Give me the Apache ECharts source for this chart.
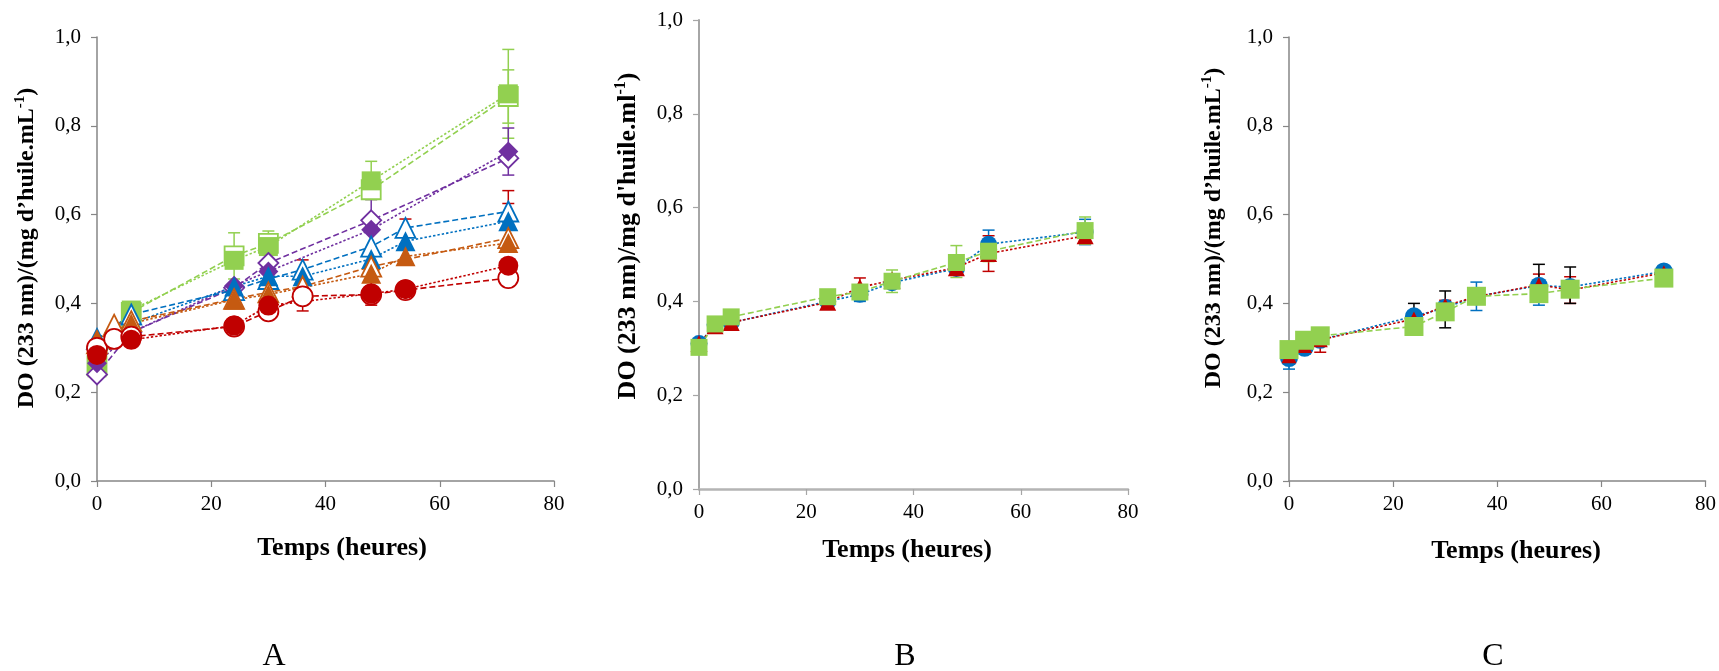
<!DOCTYPE html>
<html><head><meta charset="utf-8">
<script src="https://cdn.jsdelivr.net/npm/echarts@6/dist/echarts.min.js"></script>
<style>html,body{margin:0;padding:0;background:#fff}#c{width:1719px;height:671px}</style>
</head><body><div id="c"></div>
<script>
// ---------- ticks / labels ----------
const X_MIN = 0, X_MAX = 80, X_STEP = 20;
const Y_TICKS = [0, 0.2, 0.4, 0.6, 0.8, 1.0];
const Y_TICK_LABELS = ['0,0', '0,2', '0,4', '0,6', '0,8', '1,0'];
const PANEL_LABELS = ['A', 'B', 'C'];
const X_TITLE = 'Temps (heures)';
const Y_TITLES = ['DO (233 nm)/(mg d’huile.mL', 'DO (233 nm)/mg d\'huile.ml', 'DO (233 nm)/(mg d’huile.mL'];

// ---------- Panel A ----------
const A_gO_t = [0, 6, 24, 30, 48, 72];
const A_gO_y = [0.26, 0.38, 0.507, 0.535, 0.656, 0.866];
const A_gO_up = [0, 0, 0.052, 0, 0, 0.06];
const A_gO_dn = [0, 0, 0.052, 0, 0, 0.06];
const A_gF_t = [0, 6, 24, 30, 48, 72];
const A_gF_y = [0.255, 0.385, 0.497, 0.528, 0.676, 0.872];
const A_gF_up = [0, 0, 0, 0.035, 0.044, 0.10];
const A_gF_dn = [0, 0, 0, 0.035, 0.042, 0.10];

const A_pO_t = [0, 6, 24, 30, 48, 72];
const A_pO_y = [0.24, 0.335, 0.435, 0.491, 0.587, 0.727];
const A_pO_up = [0, 0, 0, 0, 0.047, 0];
const A_pO_dn = [0, 0, 0, 0, 0, 0];
const A_pF_t = [0, 6, 24, 30, 48, 72];
const A_pF_y = [0.265, 0.335, 0.44, 0.472, 0.566, 0.742];
const A_pF_up = [0, 0, 0, 0, 0, 0.053];
const A_pF_dn = [0, 0, 0, 0, 0, 0.053];

const A_bO_t = [0, 6, 24, 30, 36, 48, 54, 72];
const A_bO_y = [0.32, 0.375, 0.43, 0.455, 0.476, 0.528, 0.570, 0.607];
const A_bF_t = [0, 6, 24, 30, 36, 48, 54, 72];
const A_bF_y = [0.31, 0.355, 0.438, 0.461, 0.461, 0.50, 0.54, 0.585];

const A_oO_t = [0, 3, 6, 24, 30, 36, 48, 72];
const A_oO_y = [0.31, 0.352, 0.36, 0.41, 0.425, 0.438, 0.483, 0.547];
const A_oO_up = [0, 0, 0, 0, 0, 0.06, 0, 0.078];
const A_oO_dn = [0, 0, 0, 0, 0, 0, 0, 0];
const A_oF_t = [0, 6, 24, 30, 48, 54, 72];
const A_oF_y = [0.32, 0.355, 0.408, 0.42, 0.467, 0.506, 0.536];
const A_oF_up = [0, 0, 0, 0, 0, 0.084, 0.118];
const A_oF_dn = [0, 0, 0, 0, 0, 0, 0];

const A_rO_t = [0, 3, 6, 24, 30, 36, 48, 54, 72];
const A_rO_y = [0.30, 0.32, 0.325, 0.348, 0.382, 0.416, 0.42, 0.43, 0.457];
const A_rO_up = [0, 0, 0, 0, 0, 0.033, 0, 0, 0];
const A_rO_dn = [0, 0, 0, 0, 0, 0.033, 0, 0, 0];
const A_rF_t = [0, 6, 24, 30, 48, 54, 72];
const A_rF_y = [0.284, 0.318, 0.35, 0.395, 0.422, 0.432, 0.485];
const A_rF_up = [0, 0, 0, 0, 0.026, 0, 0];
const A_rF_dn = [0, 0, 0, 0, 0.026, 0, 0];

// ---------- Panel B ----------
const B_t = [0, 3, 6, 24, 30, 36, 48, 54, 72];
const B_blue_y = [0.31, 0.35, 0.355, 0.40, 0.415, 0.44, 0.47, 0.522, 0.548];
const B_blue_up = [0, 0, 0, 0, 0.015, 0, 0, 0.03, 0.027];
const B_blue_dn = [0, 0, 0, 0, 0.015, 0, 0, 0.03, 0.027];
const B_red_y = [0.31, 0.348, 0.355, 0.398, 0.43, 0.445, 0.472, 0.502, 0.54];
const B_red_up = [0, 0, 0, 0, 0.02, 0, 0, 0.038, 0];
const B_red_dn = [0, 0, 0, 0, 0, 0, 0, 0.038, 0];
const B_green_y = [0.302, 0.352, 0.367, 0.41, 0.42, 0.443, 0.483, 0.507, 0.551];
const B_green_up = [0, 0, 0, 0, 0, 0.024, 0.036, 0, 0.029];
const B_green_dn = [0, 0, 0, 0, 0, 0.024, 0.032, 0.022, 0.029];

// ---------- Panel C ----------
const C_t = [0, 3, 6, 24, 30, 36, 48, 54, 72];
const C_blue_y = [0.277, 0.30, 0.318, 0.371, 0.39, 0.416, 0.44, 0.437, 0.472];
const C_blue_up = [0.025, 0, 0, 0, 0, 0.032, 0, 0, 0];
const C_blue_dn = [0.025, 0, 0, 0, 0, 0.032, 0.044, 0, 0];
const C_red_y = [0.282, 0.305, 0.318, 0.365, 0.395, 0.415, 0.442, 0.43, 0.469];
const C_red_up = [0, 0, 0, 0, 0.012, 0, 0.024, 0.03, 0];
const C_red_dn = [0, 0, 0.028, 0, 0, 0, 0, 0.03, 0];
const C_green_y = [0.296, 0.317, 0.327, 0.348, 0.381, 0.416, 0.422, 0.432, 0.457];
const C_green_up = [0, 0, 0, 0.052, 0.047, 0, 0.066, 0.05, 0];
const C_green_dn = [0, 0, 0, 0, 0.036, 0, 0, 0.032, 0];

// ---------- styles ----------
const GREEN = '#92D050', PURPLE = '#7030A0', BLUE = '#0070C0', ORANGE = '#C55A11', RED = '#C00000', BLACK = '#000000';
const FONT = 'Liberation Serif';
const DASH = [6, 3], DOT = [2.4, 2];

function lineS(g, t, y, color, symbol, size, open, dash) {
  return {
    type: 'line', xAxisIndex: g, yAxisIndex: g, z: 3, silent: true, animation: false,
    data: t.map((x, i) => [x, y[i]]),
    symbol: symbol, symbolSize: size, showAllSymbol: true,
    lineStyle: { color: color, width: 1.6, type: dash },
    itemStyle: { color: open ? '#ffffff' : color, borderColor: color, borderWidth: open ? 1.8 : 0, opacity: 1 }
  };
}
function errS(g, t, y, up, dn, color) {
  const data = [];
  t.forEach((x, i) => { if (up[i] > 0 || dn[i] > 0) data.push([x, y[i] - dn[i], y[i] + up[i], y[i]]); });
  return {
    type: 'custom', xAxisIndex: g, yAxisIndex: g, z: 2, silent: true, animation: false,
    encode: { x: 0, y: [1, 2] }, data: data,
    renderItem: function (p, api) {
      const x = api.value(0), lo = api.value(1), hi = api.value(2), mid = api.value(3);
      const pl = api.coord([x, lo]), ph = api.coord([x, hi]);
      const st = { stroke: color, lineWidth: 1.5 };
      const ch = [{ type: 'line', shape: { x1: pl[0], y1: pl[1], x2: ph[0], y2: ph[1] }, style: st }];
      const hw = 6;
      if (lo < mid) ch.push({ type: 'line', shape: { x1: pl[0] - hw, y1: pl[1], x2: pl[0] + hw, y2: pl[1] }, style: st });
      if (hi > mid) ch.push({ type: 'line', shape: { x1: ph[0] - hw, y1: ph[1], x2: ph[0] + hw, y2: ph[1] }, style: st });
      return { type: 'group', children: ch };
    }
  };
}

const grids = [
  { left: 97, top: 37, width: 457, height: 444 },
  { left: 699, top: 20, width: 429, height: 469 },
  { left: 1289, top: 37, width: 417, height: 444 }
];
const axisCol = ['#868686', '#A6A6A6', '#868686'];
const xAxes = grids.map((g, i) => ({
  type: 'value', gridIndex: i, min: X_MIN, max: X_MAX, interval: X_STEP,
  splitLine: { show: false },
  axisLine: { show: true, lineStyle: { color: i === 1 ? '#B4B4B4' : axisCol[i], width: i === 1 ? 2.5 : 1.5 } },
  axisTick: { show: true, length: 6, lineStyle: { color: axisCol[i], width: 1.2 } },
  axisLabel: { margin: 13, color: '#000', fontFamily: FONT, fontSize: 21 }
}));
const yAxes = grids.map((g, i) => ({
  type: 'value', gridIndex: i, min: 0, max: 1, interval: 0.2,
  splitLine: { show: false },
  axisLine: { show: true, lineStyle: { color: axisCol[i], width: i === 1 ? 2 : 1.5 } },
  axisTick: { show: true, length: 6, lineStyle: { color: axisCol[i], width: 1.2 } },
  axisLabel: {
    margin: 16, color: '#000', fontFamily: FONT, fontSize: 21,
    formatter: v => { const k = Y_TICKS.findIndex(t => Math.abs(t - v) < 1e-6); return k >= 0 ? Y_TICK_LABELS[k] : ''; }
  }
}));

const series = [
  // Panel A errors
  errS(0, A_gO_t, A_gO_y, A_gO_up, A_gO_dn, GREEN),
  errS(0, A_gF_t, A_gF_y, A_gF_up, A_gF_dn, GREEN),
  errS(0, A_pO_t, A_pO_y, A_pO_up, A_pO_dn, PURPLE),
  errS(0, A_pF_t, A_pF_y, A_pF_up, A_pF_dn, PURPLE),
  errS(0, A_oO_t, A_oO_y, A_oO_up, A_oO_dn, RED),
  errS(0, A_oF_t, A_oF_y, A_oF_up, A_oF_dn, RED),
  errS(0, A_rO_t, A_rO_y, A_rO_up, A_rO_dn, RED),
  errS(0, A_rF_t, A_rF_y, A_rF_up, A_rF_dn, RED),
  // Panel A lines
  lineS(0, A_gO_t, A_gO_y, GREEN, 'rect', 19, true, DASH),
  lineS(0, A_gF_t, A_gF_y, GREEN, 'rect', 19, false, DOT),
  lineS(0, A_pO_t, A_pO_y, PURPLE, 'diamond', 20, true, DASH),
  lineS(0, A_pF_t, A_pF_y, PURPLE, 'diamond', 20, false, DOT),
  lineS(0, A_bO_t, A_bO_y, BLUE, 'triangle', 20, true, DASH),
  lineS(0, A_bF_t, A_bF_y, BLUE, 'triangle', 20, false, DOT),
  lineS(0, A_oO_t, A_oO_y, ORANGE, 'triangle', 20, true, DASH),
  lineS(0, A_oF_t, A_oF_y, ORANGE, 'triangle', 20, false, DOT),
  lineS(0, A_rO_t, A_rO_y, RED, 'circle', 20, true, DASH),
  lineS(0, A_rF_t, A_rF_y, RED, 'circle', 20, false, DOT),
  // Panel B
  errS(1, B_t, B_blue_y, B_blue_up, B_blue_dn, BLUE),
  errS(1, B_t, B_red_y, B_red_up, B_red_dn, RED),
  errS(1, B_t, B_green_y, B_green_up, B_green_dn, GREEN),
  lineS(1, B_t, B_blue_y, BLUE, 'circle', 17, false, DOT),
  lineS(1, B_t, B_red_y, RED, 'triangle', 17, false, DOT),
  lineS(1, B_t, B_green_y, GREEN, 'rect', 17, false, DASH),
  // Panel C
  errS(2, C_t, C_blue_y, C_blue_up, C_blue_dn, BLUE),
  errS(2, C_t, C_red_y, C_red_up, C_red_dn, RED),
  errS(2, C_t, C_green_y, C_green_up, C_green_dn, BLACK),
  lineS(2, C_t, C_blue_y, BLUE, 'circle', 18, false, DOT),
  lineS(2, C_t, C_red_y, RED, 'triangle', 15, false, DOT),
  lineS(2, C_t, C_green_y, GREEN, 'rect', 19, false, DASH)
];

function yTitle(x, y, txt, fs) {
  return {
    type: 'text', x: x, y: y, rotation: Math.PI / 2, silent: true,
    style: {
      text: '{t|' + txt + '}{s|-1}{t|)}', align: 'center', verticalAlign: 'middle',
      rich: {
        t: { fontFamily: FONT, fontWeight: 'bold', fontSize: fs, lineHeight: fs + 4, fill: '#000' },
        s: { fontFamily: FONT, fontWeight: 'bold', fontSize: Math.round(fs * 0.62), lineHeight: fs - 2, verticalAlign: 'top', fill: '#000' }
      }
    }
  };
}
function plainText(x, y, txt, fs, bold) {
  return {
    type: 'text', x: x, y: y, silent: true,
    style: { text: txt, fontFamily: FONT, fontWeight: bold ? 'bold' : 'normal', fontSize: fs, fill: '#000', align: 'center', verticalAlign: 'middle' }
  };
}

const option = {
  backgroundColor: '#ffffff',
  animation: false,
  grid: grids,
  xAxis: xAxes,
  yAxis: yAxes,
  series: series,
  graphic: [
    yTitle(27, 248, Y_TITLES[0], 24),
    yTitle(628, 236, Y_TITLES[1], 26),
    yTitle(1214, 228, Y_TITLES[2], 24),
    plainText(342, 548, X_TITLE, 26, true),
    plainText(907, 550, X_TITLE, 26, true),
    plainText(1516, 551, X_TITLE, 26, true),
    plainText(274, 657, PANEL_LABELS[0], 32, false),
    plainText(905, 657, PANEL_LABELS[1], 32, false),
    plainText(1493, 657, PANEL_LABELS[2], 32, false)
  ]
};
const chart = echarts.init(document.getElementById('c'), null, { renderer: 'canvas' });
chart.setOption(option);
</script>
</body></html>
